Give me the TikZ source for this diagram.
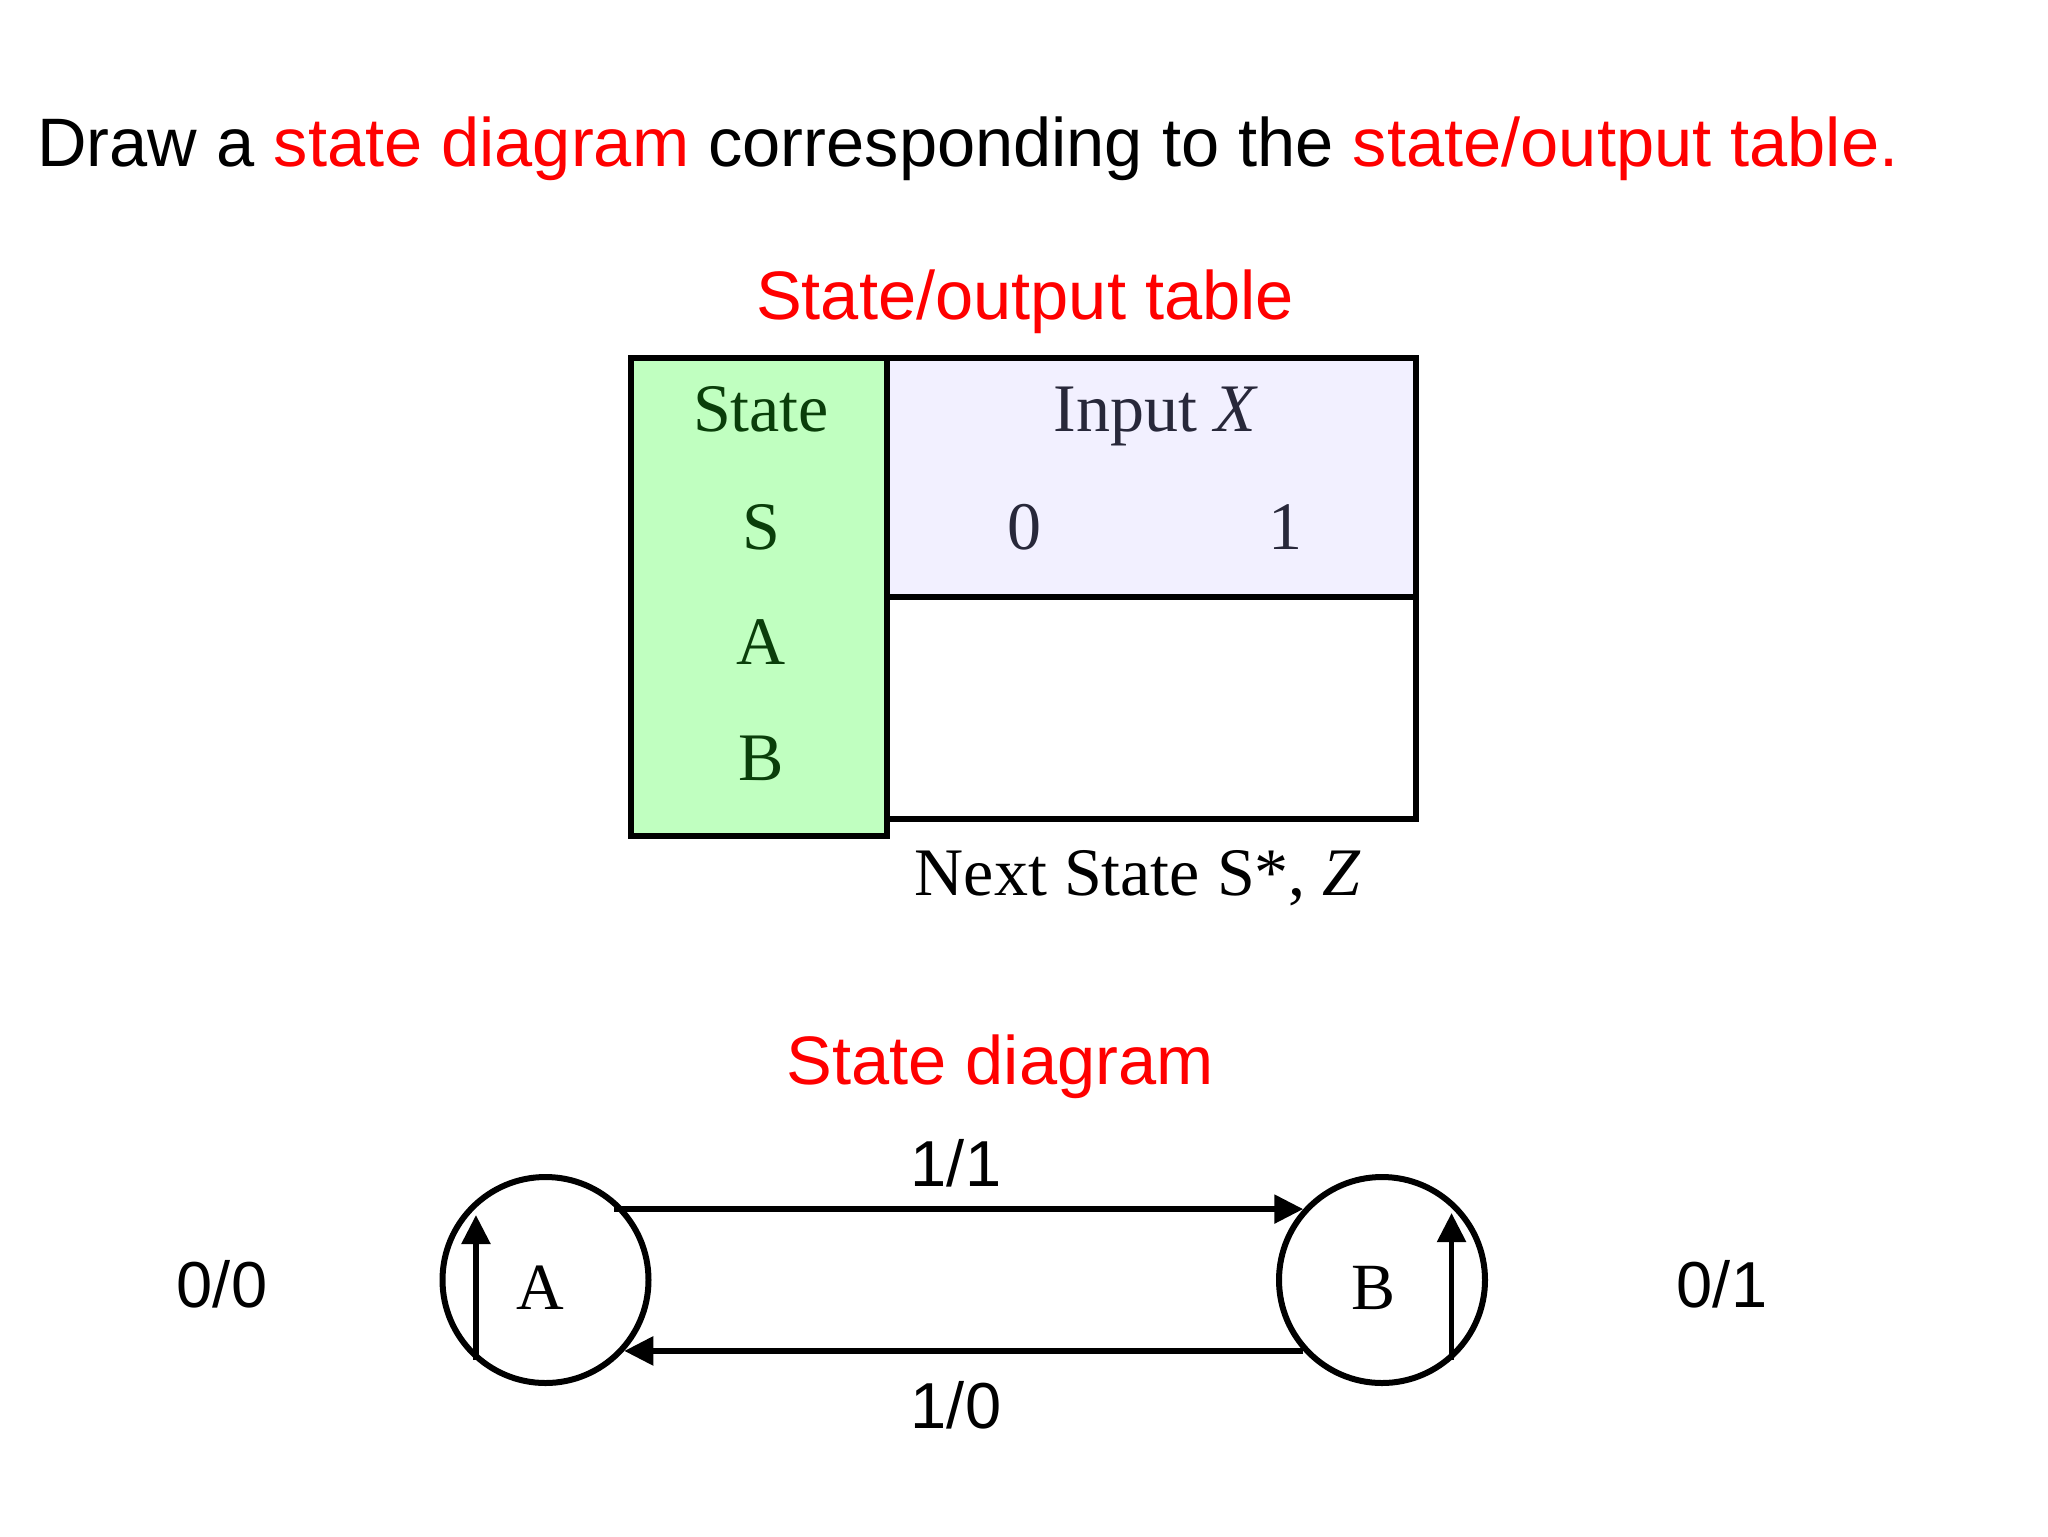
\documentclass[tikz,border=0pt]{standalone}
\usepackage{fontspec}
\setmainfont{Liberation Serif}
\newfontfamily\arialf{Liberation Sans}
\usetikzlibrary{arrows.meta}
\definecolor{redtxt}{RGB}{255,0,0}
\definecolor{greenfill}{RGB}{192,255,192}
\definecolor{lavfill}{RGB}{242,240,255}
\definecolor{greentxt}{RGB}{10,62,10}
\definecolor{slatetxt}{RGB}{40,40,58}
\tikzset{
  sans/.style={font=\arialf\fontsize{34.3pt}{40pt}\selectfont, inner sep=0pt},
  lbl/.style={font=\arialf\fontsize{32.5pt}{38pt}\selectfont, inner sep=0pt, anchor=base},
  serif/.style={font=\fontsize{34pt}{40pt}\selectfont, inner sep=0pt, anchor=base},
  tbl/.style={draw=black, line width=2.8pt},
  statenode/.style={circle, draw=black, line width=3pt, minimum size=103pt, inner sep=0pt},
  statelbl/.style={font=\fontsize{33pt}{38pt}\selectfont, inner sep=0pt, anchor=base},
  arr/.style={draw=black, line width=2.8pt, -{Triangle[width=14pt,length=14.5pt]}}
}
\begin{document}
\begin{tikzpicture}[x=0.5pt,y=-0.5pt]
\useasboundingbox[fill=white] (0,0) rectangle (2048,1536);
% title
\node[sans, anchor=base west] (title) at (37,166) {Draw a \textcolor{redtxt}{state diagram} corresponding to the \textcolor{redtxt}{state/output table.}};
\node[sans, anchor=base, text=redtxt] (tabtitle) at (1025,319) {State/output table};
% table
\draw[tbl, fill=greenfill] (631,358) rectangle (887,836);
\draw[tbl, fill=lavfill] (887,358) rectangle (1416,597);
\draw[tbl, fill=white] (887,597) rectangle (1416,819);
\node[serif, text=greentxt] (hstate) at (761,431) {State};
\node[serif, text=greentxt] (hs) at (761,549) {S};
\node[serif, text=greentxt] (ra) at (761,664) {A};
\node[serif, text=greentxt] (rb) at (761,780) {B};
\node[serif, text=slatetxt] (hin) at (1156,431) {Input \textit{X}};
\node[serif, text=slatetxt] (h0) at (1024,549) {0};
\node[serif, text=slatetxt] (h1) at (1285,549) {1};
\node[serif] (ns) at (1138,895) {Next State S*, \textit{Z}};
% state diagram
\node[sans, anchor=base, text=redtxt] (sdtitle) at (1000,1084) {State diagram};
\node[statenode] (A) at (545.5,1280) {};
\node[statenode] (B) at (1382,1280) {};
\node[statelbl] (Alab) at (540,1309) {A};
\node[statelbl] (Blab) at (1373,1309) {B};
\draw[arr] ([xshift=-5pt]A.42) -- (B.138);
\draw[arr] (B.222) -- (A.318);
\path (A.229) ++(0,-145) coordinate (Atip);
\path (B.311) ++(0,-147) coordinate (Btip);
\draw[arr] (A.229) -- (Atip);
\draw[arr] (B.311) -- (Btip);
\node[lbl] (l11) at (956,1186) {1/1};
\node[lbl] (l10) at (956,1428) {1/0};
\node[lbl] (l00) at (222,1307) {0/0};
\node[lbl] (l01) at (1722,1307) {0/1};
\end{tikzpicture}
\end{document}
